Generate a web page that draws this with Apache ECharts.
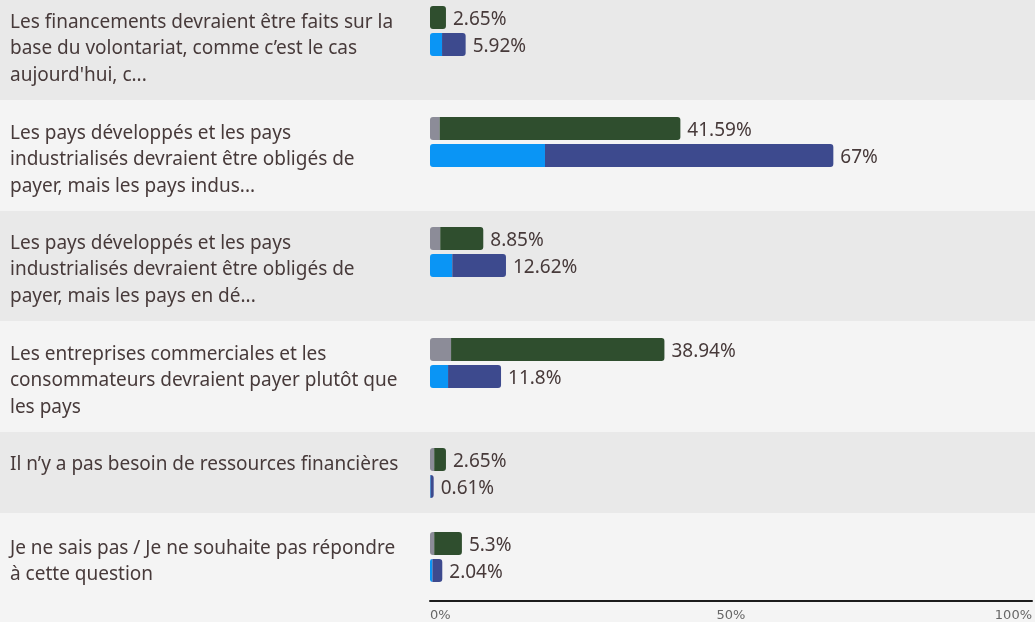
<!DOCTYPE html>
<html>
<head>
<meta charset="utf-8">
<script src="https://cdn.jsdelivr.net/npm/echarts@6/dist/echarts.min.js"></script>
<style>
  html, body { margin: 0; padding: 0; background: #f4f4f4; }
  #chart { width: 1035px; height: 622px; }
</style>
</head>
<body>
<div id="chart"></div>
<script>
// libellés des questions (coupés comme dans l'original)
const categories = [
  'Les financements devraient être faits sur la\nbase du volontariat, comme c\u2019est le cas\naujourd\'hui, c...',
  'Les pays développés et les pays\nindustrialisés devraient être obligés de\npayer, mais les pays indus...',
  'Les pays développés et les pays\nindustrialisés devraient être obligés de\npayer, mais les pays en dé...',
  'Les entreprises commerciales et les\nconsommateurs devraient payer plutôt que\nles pays',
  'Il n\u2019y a pas besoin de ressources financières',
  'Je ne sais pas / Je ne souhaite pas répondre\nà cette question'
]
// barre verte (total) et sa partie grise
const greenTotal = [2.65, 41.59, 8.85, 38.94, 2.65, 5.3]
const grayPart = [0, 1.6, 1.7, 3.5, 0.7, 0.7]
// barre bleue (total) et sa partie bleu clair
const blueTotal = [5.92, 67, 12.62, 11.8, 0.61, 2.04]
const lightPart = [2.0, 19.1, 3.7, 3.0, 0.1, 0.4]
// graduations de l'axe
const xTicks = [0, 50, 100]

// mise en page : haut des barres de chaque ligne, bandes foncées
const rowTops = [6, 117, 227, 338, 448, 532]
const darkBands = [[-11, 100], [211, 321], [432, 513]]
const axisY = 601

const textColor = '#473a3a'
const font = 'Noto Sans'

const chart = echarts.init(document.getElementById('chart'))

const grids = []
const xAxes = []
const yAxes = []
const series = []

categories.forEach((cat, i) => {
  const last = i === categories.length - 1
  grids.push({ left: 430, right: 3, top: rowTops[i], height: 50 })
  xAxes.push({
    gridIndex: i,
    type: 'value',
    min: xTicks[0],
    max: xTicks[xTicks.length - 1],
    interval: xTicks[1] - xTicks[0],
    show: last,
    offset: last ? axisY - (rowTops[i] + 50) : 0,
    splitLine: { show: false },
    axisTick: { show: false },
    axisLine: { show: true, lineStyle: { color: '#1c1c1c', width: 2 } },
    axisLabel: {
      formatter: '{value}%',
      color: '#666',
      fontFamily: 'DejaVu Sans',
      fontSize: 13,
      margin: 8,
      alignMinLabel: 'left',
      alignMaxLabel: 'right'
    }
  })
  yAxes.push({
    gridIndex: i,
    type: 'category',
    data: [cat],
    axisLine: { show: false },
    axisTick: { show: false },
    splitLine: { show: false },
    axisLabel: {
      align: 'left',
      margin: 420,
      verticalAlign: 'top',
      padding: [-22, 0, 0, 0],
      lineHeight: 26.5,
      fontSize: 19,
      fontFamily: font,
      color: textColor
    }
  })
  const label = (total) => ({
    show: true,
    position: 'right',
    distance: 7,
    offset: [0, 2],
    fontSize: 19,
    fontFamily: font,
    color: textColor,
    formatter: () => total + '%'
  })
  const common = { type: 'bar', xAxisIndex: i, yAxisIndex: i, barWidth: 23, barGap: '17%' }
  series.push(
    Object.assign({}, common, {
      stack: 'g' + i,
      data: [grayPart[i]],
      itemStyle: { color: '#8c8c98', borderRadius: [3, 0, 0, 3] }
    }),
    Object.assign({}, common, {
      stack: 'g' + i,
      data: [+(greenTotal[i] - grayPart[i]).toFixed(2)],
      itemStyle: { color: '#2f4e2e', borderRadius: grayPart[i] ? [0, 3, 3, 0] : 3 },
      label: label(greenTotal[i])
    }),
    Object.assign({}, common, {
      stack: 'b' + i,
      data: [lightPart[i]],
      itemStyle: { color: '#0a95f5', borderRadius: [3, 0, 0, 3] }
    }),
    Object.assign({}, common, {
      stack: 'b' + i,
      data: [+(blueTotal[i] - lightPart[i]).toFixed(2)],
      itemStyle: { color: '#3d4a8e', borderRadius: [0, 3, 3, 0] },
      label: label(blueTotal[i])
    })
  )
})

const option = {
  backgroundColor: '#f4f4f4',
  animation: false,
  graphic: darkBands.map(b => ({
    type: 'rect',
    z: -100,
    silent: true,
    shape: { x: 0, y: b[0], width: 1035, height: b[1] - b[0] },
    style: { fill: '#e9e9e9' }
  })),
  grid: grids,
  xAxis: xAxes,
  yAxis: yAxes,
  series: series
}

chart.setOption(option)
</script>
</body>
</html>
